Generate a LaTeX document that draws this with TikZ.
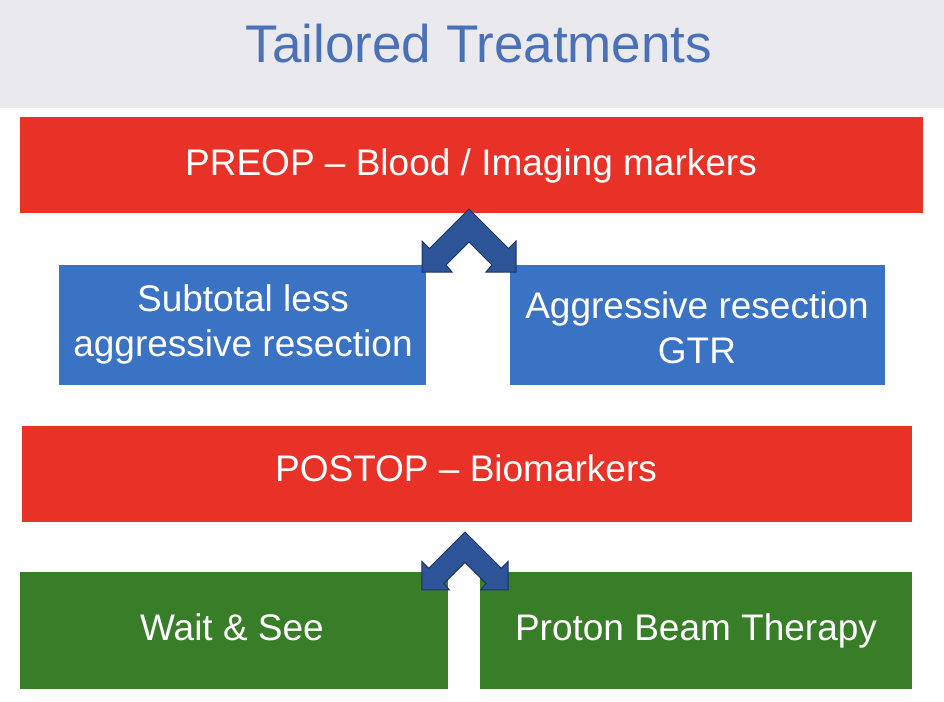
\documentclass[tikz,border=0pt]{standalone}
\usepackage{fontspec}
\setmainfont{Liberation Sans}
\definecolor{bandgray}{RGB}{234,233,237}
\definecolor{titleblue}{RGB}{74,112,184}
\definecolor{boxred}{RGB}{232,50,40}
\definecolor{boxblue}{RGB}{58,114,196}
\definecolor{boxgreen}{RGB}{56,126,40}
\definecolor{arrowblue}{RGB}{46,84,152}
\definecolor{arrowedge}{RGB}{30,52,100}
\tikzset{
  box/.style={draw=none, inner sep=0pt},
  redbox/.style={box, fill=boxred},
  bluebox/.style={box, fill=boxblue},
  greenbox/.style={box, fill=boxgreen},
  boxtext/.style={inner sep=0pt, text=white, align=center,
    font=\fontsize{37}{45}\selectfont, text height=26.5pt, text depth=0pt},
  twoline/.style={boxtext, text height=71.5pt},
  chev/.pic={\filldraw[fill=arrowblue, draw=arrowedge, line width=1pt, line join=miter]
    (0,0) -- (39.5,39.5) -- (47,32) -- (47,63) -- (17,63) -- (23,56) -- (0,33)
    -- (-23,56) -- (-17,63) -- (-47,63) -- (-47,32) -- (-39.5,39.5) -- cycle;}
}
\begin{document}
\begin{tikzpicture}[x=1pt,y=-1pt]
\useasboundingbox (0,0) rectangle (944,701);
\fill[white] (0,0) rectangle (944,701);
\fill[bandgray] (0,0) rectangle (944,108);
\node[font=\fontsize{53}{60}\selectfont, text=titleblue, inner sep=0pt, text height=38pt, text depth=0pt] (title) at (479,44) {Tailored Treatments};
\node[redbox, minimum width=903pt, minimum height=96pt] (preop) at (471.5,165) {};
\node[bluebox, minimum width=367pt, minimum height=120pt] (subtotal) at (242.5,325) {};
\node[bluebox, minimum width=375pt, minimum height=120pt] (gtr) at (697.5,325) {};
\node[redbox, minimum width=890pt, minimum height=96pt] (postop) at (467,474) {};
\node[greenbox, minimum width=428pt, minimum height=117pt] (wait) at (234,630.5) {};
\node[greenbox, minimum width=432pt, minimum height=117pt] (proton) at (696,630.5) {};
\node[boxtext] (preoptext) at (471,162) {PREOP -- Blood / Imaging markers};
\node[twoline] (subtotaltext) at (243,320.5) {Subtotal less\\aggressive resection};
\node[twoline] (gtrtext) at (697,327.5) {Aggressive resection\\GTR};
\node[boxtext] (postoptext) at (466,468) {POSTOP -- Biomarkers};
\node[boxtext] (waittext) at (232,627) {Wait \& See};
\node[boxtext] (protontext) at (696,627) {Proton Beam Therapy};
\pic (arrowa) at (469,209) {chev};
\pic[scale=0.92] (arrowb) at (465,532) {chev};
\end{tikzpicture}
\end{document}
